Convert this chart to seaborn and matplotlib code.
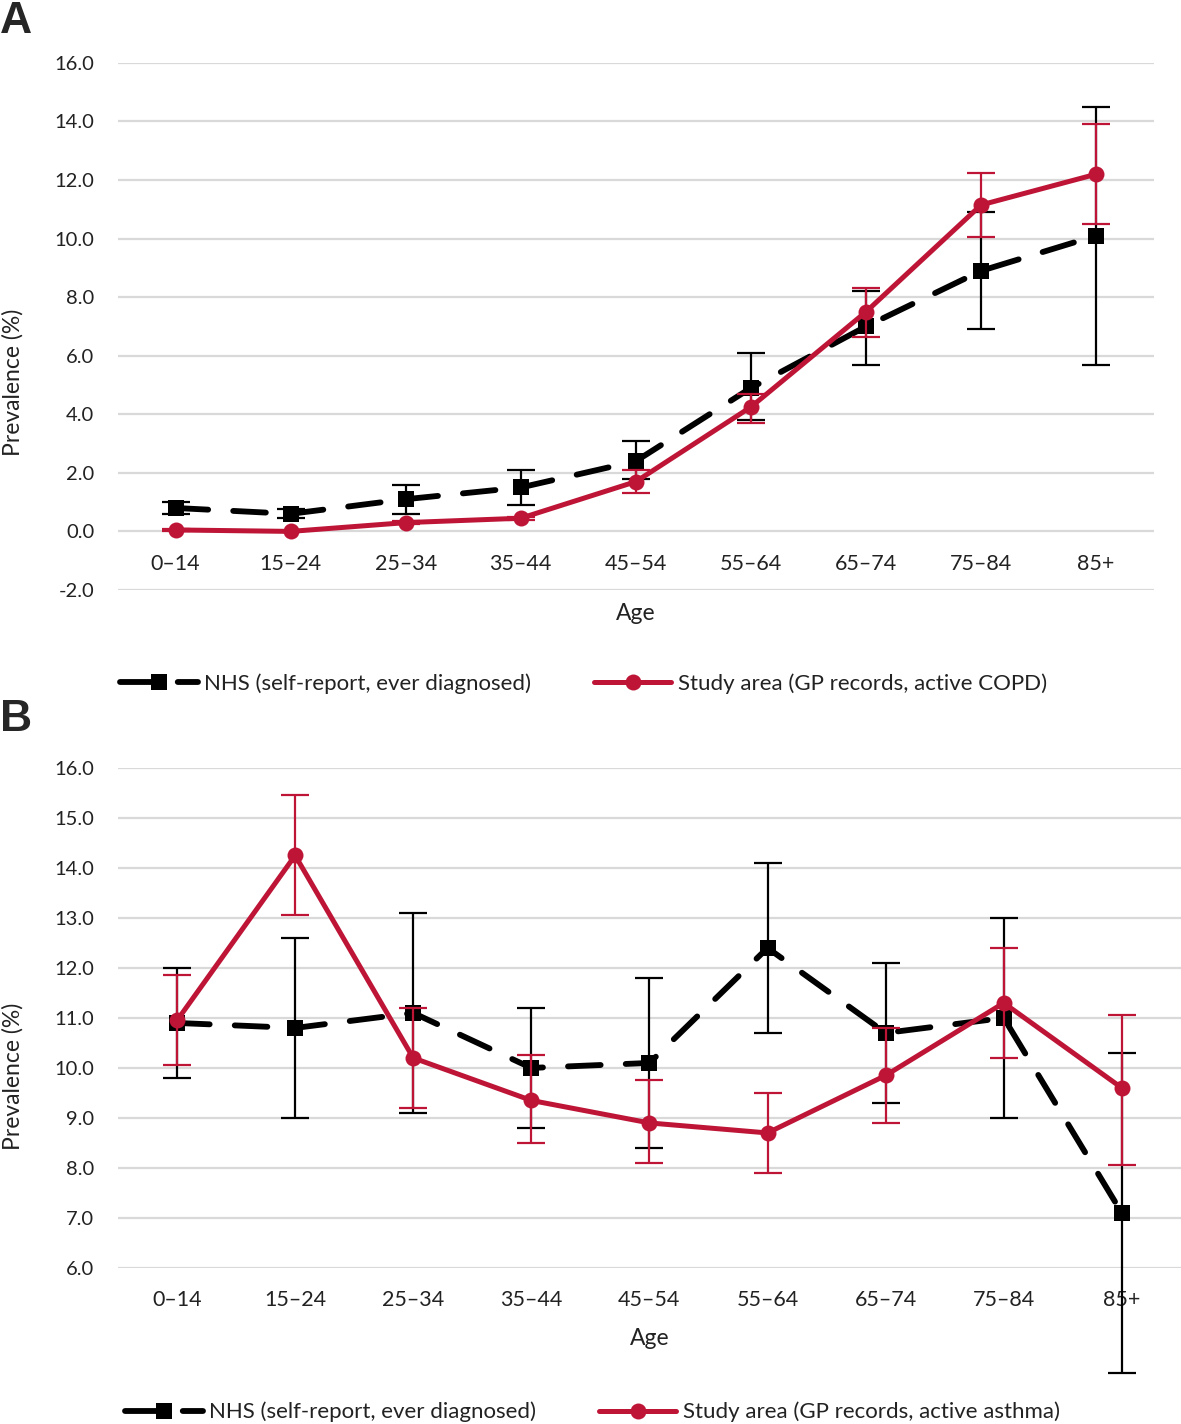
import numpy as np
import matplotlib
matplotlib.use("Agg")
import matplotlib.pyplot as plt
import seaborn as sns

# age groups (x categories)
ages = ['0–14', '15–24', '25–34', '35–44', '45–54', '55–64', '65–74', '75–84', '85+']

# Panel A: COPD prevalence (%)
nhs_a = [0.8, 0.6, 1.1, 1.5, 2.4, 4.9, 7.0, 8.9, 10.1]
nhs_a_lo = [0.6, 0.45, 0.6, 0.9, 1.8, 3.8, 5.7, 6.9, 5.7]
nhs_a_hi = [1.0, 0.75, 1.6, 2.1, 3.1, 6.1, 8.2, 10.9, 14.5]
study_a = [0.05, 0.0, 0.3, 0.45, 1.7, 4.25, 7.5, 11.15, 12.2]
study_a_lo = [0.03, 0.0, 0.25, 0.4, 1.3, 3.7, 6.65, 10.05, 10.5]
study_a_hi = [0.07, 0.02, 0.35, 0.5, 2.1, 4.7, 8.3, 12.25, 13.9]

# Panel B: asthma prevalence (%)
nhs_b = [10.9, 10.8, 11.1, 10.0, 10.1, 12.4, 10.7, 11.0, 7.1]
nhs_b_lo = [9.8, 9.0, 9.1, 8.8, 8.4, 10.7, 9.3, 9.0, 3.9]
nhs_b_hi = [12.0, 12.6, 13.1, 11.2, 11.8, 14.1, 12.1, 13.0, 10.3]
study_b = [10.95, 14.25, 10.2, 9.35, 8.9, 8.7, 9.85, 11.3, 9.6]
study_b_lo = [10.05, 13.05, 9.2, 8.5, 8.1, 7.9, 8.9, 10.2, 8.05]
study_b_hi = [11.85, 15.45, 11.2, 10.25, 9.75, 9.5, 10.8, 12.4, 11.05]

nhs_label = 'NHS (self-report, ever diagnosed)'
study_label_a = 'Study area (GP records, active COPD)'
study_label_b = 'Study area (GP records, active asthma)'

RED = '#be1537'
TXT = '#222222'

sns.set_theme(style='white')
plt.rcParams['font.family'] = ['Lato', 'DejaVu Sans']

fig = plt.figure(figsize=(11.81, 14.24), dpi=100)
ax_a = fig.add_axes([0.0999, 0.5857, 0.877, 0.3701])
ax_b = fig.add_axes([0.0999, 0.1096, 0.9, 0.3511])


def draw_panel(ax, nhs, nhs_lo, nhs_hi, study, study_lo, study_hi, study_label):
    nhs = np.array(nhs)
    study = np.array(study)
    err_n = [nhs - np.array(nhs_lo), np.array(nhs_hi) - nhs]
    err_s = [study - np.array(study_lo), np.array(study_hi) - study]

    sns.lineplot(x=ages, y=nhs, ax=ax, color='black', linewidth=4.2, marker='s',
                 markersize=11, markeredgecolor='black', markeredgewidth=0,
                 label=nhs_label, zorder=3, sort=False)
    ln = ax.lines[-1]
    ln.set_dashes((5.6, 4.3))
    ln.set_dash_capstyle('round')
    ax.errorbar(ages, nhs, yerr=err_n, fmt='none', ecolor='black', elinewidth=1.6,
                capsize=10, capthick=1.6, zorder=2, clip_on=False)

    ax.errorbar(ages, study, yerr=err_s, fmt='none', ecolor=RED, elinewidth=1.6,
                capsize=10, capthick=1.6, zorder=4, clip_on=False)
    sns.lineplot(x=ages, y=study, ax=ax, color=RED, linewidth=3.6, marker='o',
                 markersize=11.5, markeredgecolor=RED, markeredgewidth=0,
                 label=study_label, zorder=5, sort=False)

    ax.set_xlim(-0.5, 8.5)
    ax.grid(axis='y', color='#d9d9d9', linewidth=1.6)
    ax.grid(axis='x', visible=False)
    for s in ax.spines.values():
        s.set_visible(False)
    ax.tick_params(axis='both', length=0, labelsize=14.5, labelcolor=TXT)
    ax.tick_params(axis='x', labelsize=15.5)
    ax.tick_params(axis='y', pad=17)
    ax.set_xlabel('Age', fontsize=16.5, color=TXT)
    ax.set_ylabel('Prevalence (%)', fontsize=16.5, color=TXT)
    leg = ax.get_legend()
    if leg is not None:
        leg.remove()


draw_panel(ax_a, nhs_a, nhs_a_lo, nhs_a_hi, study_a, study_a_lo, study_a_hi, study_label_a)
ax_a.set_ylim(-2, 16)
ax_a.set_yticks(np.arange(-2, 16.1, 2))
ax_a.set_yticklabels([f'{v:.1f}' for v in np.arange(-2, 16.1, 2)])
ax_a.spines['bottom'].set_position(('data', 0))
ax_a.tick_params(axis='x', pad=16)
ax_a.xaxis.set_label_coords(0.5, -0.025)
ax_a.yaxis.set_label_coords(-0.0907, 0.393)

draw_panel(ax_b, nhs_b, nhs_b_lo, nhs_b_hi, study_b, study_b_lo, study_b_hi, study_label_b)
ax_b.set_ylim(6, 16)
ax_b.set_yticks(np.arange(6, 16.1, 1))
ax_b.set_yticklabels([f'{v:.1f}' for v in np.arange(6, 16.1, 1)])
ax_b.tick_params(axis='x', pad=16)
ax_b.xaxis.set_label_coords(0.5, -0.12)
ax_b.yaxis.set_label_coords(-0.0884, 0.384)

for ax, y, x in [(ax_a, 0.5197, 0.1016), (ax_b, 0.0084, 0.1058)]:
    h, l = ax.get_legend_handles_labels()
    fig.legend(h, l, loc='center left', bbox_to_anchor=(x, y), ncol=2, frameon=False,
               fontsize=16, handlelength=3.5, handletextpad=0.3, columnspacing=2.8,
               borderpad=0, borderaxespad=0, labelcolor=TXT, numpoints=1)

fig.text(0.0, 0.999, 'A', fontsize=32, fontweight='bold', va='top', ha='left',
         family='Liberation Sans')
fig.text(0.0, 0.509, 'B', fontsize=32, fontweight='bold', va='top', ha='left',
         family='Liberation Sans')

fig.savefig('out.png', dpi=100)
